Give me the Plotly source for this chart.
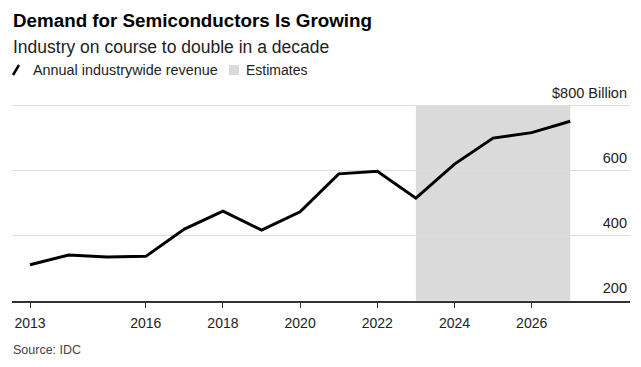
import plotly.graph_objects as go

years = [2013, 2014, 2015, 2016, 2017, 2018, 2019, 2020, 2021, 2022, 2023, 2024, 2025, 2026, 2027]
revenue = [311, 341, 335, 337, 421, 476, 418, 474, 591, 599, 516, 621, 701, 718, 753]
estimate_span = [2023, 2027]
x_tick_vals = [2013, 2016, 2018, 2020, 2022, 2024, 2026]
y_tick_vals = [200, 400, 600, 800]
y_tick_text = ["200", "400", "600", "$800 Billion"]

W, H = 641, 367
OFF = 8  # page body margin offset
# target screen geometry of plot area
SL, SR, ST, SB = 12, 630, 80, 301
L = SL - OFF
T = ST - OFF
PW = SR - SL
PH = SB - ST
R = W - L - PW
B = H - T - PH
FONT = "Liberation Sans, Arial, sans-serif"
Y_PER_PX = 200 / 65


def px(xs):
    return (xs - SL) / PW


def py(ys):
    return (SB - ys) / PH


fig = go.Figure()
fig.add_trace(go.Scatter(x=years, y=revenue, mode="lines",
                         line=dict(color="#000000", width=3),
                         showlegend=False, hoverinfo="skip"))

fig.add_shape(type="rect", xref="x", yref="y",
              x0=estimate_span[0], x1=estimate_span[1], y0=y_tick_vals[0], y1=y_tick_vals[-1],
              fillcolor="#dadada", line_width=0, layer="below")

# Legend (manual)
fig.add_shape(type="line", xref="paper", yref="paper",
              x0=px(13), y0=py(75), x1=px(19), y1=py(65),
              line=dict(color="#000000", width=2.5))
fig.add_shape(type="rect", xref="paper", yref="paper",
              x0=px(229), y0=py(75), x1=px(239), y1=py(65),
              fillcolor="#dadada", line_width=0)

anns = [
    dict(text="<b>Demand for Semiconductors Is Growing</b>", x=px(11), y=py(20), size=18.8, color="#000000"),
    dict(text="Industry on course to double in a decade", x=px(11), y=py(46.5), size=17.5, color="#222222"),
    dict(text="Annual industrywide revenue", x=px(31), y=py(70), size=14.4, color="#222222"),
    dict(text="Estimates", x=px(244), y=py(70), size=14, color="#222222"),
    dict(text="Source: IDC", x=px(11), y=py(350), size=12.5, color="#444444"),
]
for a in anns:
    fig.add_annotation(text=a["text"], xref="paper", yref="paper", x=a["x"], y=a["y"],
                       xanchor="left", yanchor="middle", showarrow=False,
                       font=dict(family=FONT, size=a["size"], color=a["color"]))

x0 = 2013 - (30 - SL) / 38.59
x1 = 2013 + (SR - 30) / 38.59
fig.update_layout(
    width=W, height=H,
    margin=dict(l=L, r=R, t=T, b=B, pad=0),
    paper_bgcolor="#ffffff", plot_bgcolor="#ffffff",
    font=dict(family=FONT, size=14, color="#222222"),
    xaxis=dict(range=[x0, x1], tickmode="array", tickvals=x_tick_vals,
               ticks="outside", ticklen=5, tickwidth=1, tickcolor="#333333",
               showgrid=False, zeroline=False, showline=True, linecolor="#333333",
               linewidth=1.5, tickfont=dict(size=14, color="#222222"),
               ticklabelstandoff=3, fixedrange=True),
    yaxis=dict(range=[199.5, 200 + PH * Y_PER_PX], side="right", tickmode="array",
               tickvals=y_tick_vals, ticktext=y_tick_text, ticklabelposition="inside top",
               ticklabelshift=-3,
               showgrid=True, gridcolor="#dddddd", gridwidth=1, zeroline=False,
               showline=False, ticks="", tickfont=dict(size=14.5, color="#222222"),
               fixedrange=True),
)

fig.write_html("out.html")
